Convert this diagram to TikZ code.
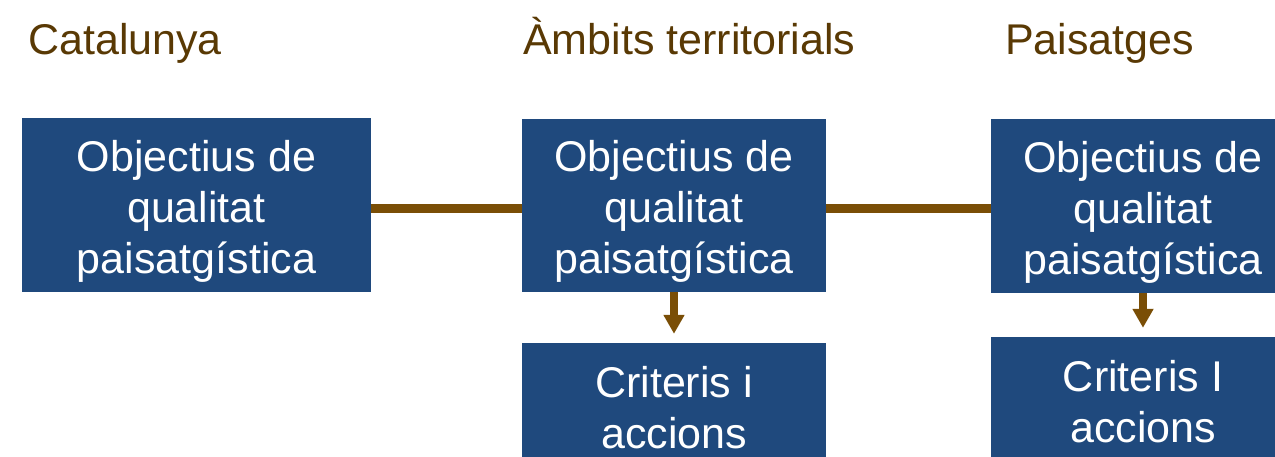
\documentclass[tikz,border=0pt]{standalone}
\usepackage{fontspec}
\setmainfont{Liberation Sans}
\usetikzlibrary{arrows.meta, positioning}
\definecolor{boxblue}{RGB}{31, 73, 125}
\definecolor{linebrown}{RGB}{122, 78, 6}
\definecolor{headbrown}{RGB}{89, 57, 4}
\newcommand{\qualitext}{\rule{0pt}{43pt}Objectius de\\qualitat\\paisatgística}

\begin{document}
\begin{tikzpicture}[x=1pt, y=-1pt,
    qbox/.style={fill=boxblue, text=white, align=center, inner sep=0pt,
        font=\fontsize{43}{51}\selectfont},
    head/.style={text=headbrown, anchor=base west, inner sep=0pt,
        font=\fontsize{43}{51}\selectfont},
    link/.style={linebrown, line width=9pt},
    down/.style={linebrown, line width=8pt, -{Triangle[width=20pt, length=19pt]}, shorten >=9pt}]
    \useasboundingbox (0,0) rectangle (1275,457);
    \clip (0,0) rectangle (1275,457);
    % column titles
    \node[head] (hcat) at (28,55) {Catalunya};
    \node[head] (hamb) at (523,55) {Àmbits territorials};
    \node[head] (hpai) at (1005,55) {Paisatges};
    % objectives
    \node[qbox, minimum width=349pt, minimum height=174pt] (ocat) at (196.5,205) {\qualitext};
    \node[qbox, minimum width=304pt, minimum height=173pt] (oamb) at (674,205.5) {\qualitext};
    \node[qbox, minimum width=304pt, minimum height=174pt] (opai) at (1143,206) {\qualitext};
    % criteria
    \node[qbox, minimum width=304pt, minimum height=130pt] (camb) at (674,408) {Criteris i\\accions};
    \node[qbox, minimum width=304pt, minimum height=130pt] (cpai) at (1143,402) {Criteris I\\accions};
    % connectors
    \draw[link] ([yshift=-3.5pt]ocat.east) -- ([yshift=-3.5pt]ocat.east -| oamb.west);
    \draw[link] ([yshift=-3pt]oamb.east) -- ([yshift=-3pt]oamb.east -| opai.west);
    \draw[down] (oamb.south) -- (camb.north);
    \draw[down] (opai.south) -- (cpai.north);
\end{tikzpicture}
\end{document}
